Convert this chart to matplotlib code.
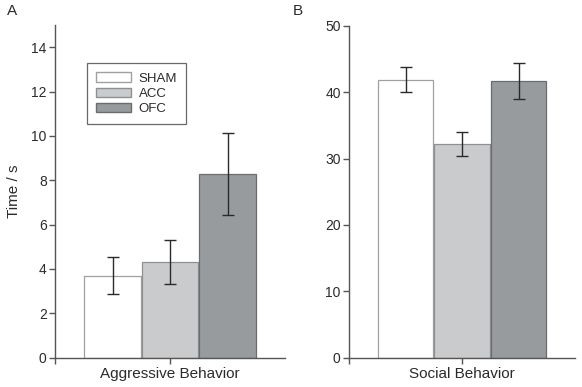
import matplotlib
matplotlib.use("Agg")
import matplotlib.pyplot as plt

plt.rcParams['font.family'] = ['Liberation Sans', 'DejaVu Sans']

groups = ["SHAM", "ACC", "OFC"]
colors = ["#ffffff", "#c9cbcd", "#989b9e"]
edges = ["#a0a0a0", "#8e9092", "#6a6d70"]

aggr_mean = [3.69, 4.32, 8.28]
aggr_err = [0.83, 1.0, 1.84]
social_mean = [41.9, 32.15, 41.7]
social_err = [1.85, 1.8, 2.65]

text_c = "#2b2b2b"
axis_c = "#555555"

fig = plt.figure(figsize=(5.82, 3.87), dpi=100)
ax1 = fig.add_axes([0.0945, 0.0757, 0.3952, 0.8597])
ax2 = fig.add_axes([0.5997, 0.0757, 0.3883, 0.8575])


def draw(ax, means, errs, ymax, yticks, label):
    xs = [-0.5, 0.0, 0.5]
    for x, m, e, c, ec in zip(xs, means, errs, colors, edges):
        ax.bar(x, m, width=0.49, color=c, edgecolor=ec, linewidth=0.9, zorder=2)
        ax.errorbar(x, m, yerr=e, fmt='none', ecolor="#2a2a2a", elinewidth=1.0,
                    capsize=4, capthick=1.0, zorder=3)
    ax.set_xlim(-1.0, 1.0)
    ax.set_ylim(0, ymax)
    ax.set_yticks(yticks)
    ax.set_xticks([-1.0, 0.0])
    ax.set_xticklabels([])
    ax.spines['top'].set_visible(False)
    ax.spines['right'].set_visible(False)
    for s in ('left', 'bottom'):
        ax.spines[s].set_color(axis_c)
        ax.spines[s].set_linewidth(1.0)
    ax.tick_params(axis='both', direction='out', length=4, width=1.0,
                   color=axis_c, labelsize=10, labelcolor=text_c, pad=2)
    ax.set_xlabel(label, fontsize=11, color=text_c, labelpad=1)


draw(ax1, aggr_mean, aggr_err, 15, range(0, 15, 2), "Aggressive Behavior")
draw(ax2, social_mean, social_err, 50, range(0, 51, 10), "Social Behavior")

ax1.set_ylabel("Time / s", fontsize=11, color=text_c, labelpad=7)

handles = [plt.Rectangle((0, 0), 1, 1, facecolor=c, edgecolor=e, linewidth=1.0)
           for c, e in zip(colors, edges)]
leg = ax1.legend(handles, groups, loc='upper left', bbox_to_anchor=(0.14, 0.885),
                 fontsize=9.5, frameon=True, fancybox=False, handlelength=2.6,
                 handleheight=0.75, labelspacing=0.2, borderpad=0.7,
                 handletextpad=0.6, labelcolor=text_c, borderaxespad=0)
leg.get_frame().set_edgecolor("#444444")
leg.get_frame().set_linewidth(0.9)

fig.text(0.012, 0.972, "A", fontsize=11, color=text_c, va='center')
fig.text(0.503, 0.972, "B", fontsize=11, color=text_c, va='center')

fig.savefig("out.png", dpi=100)
